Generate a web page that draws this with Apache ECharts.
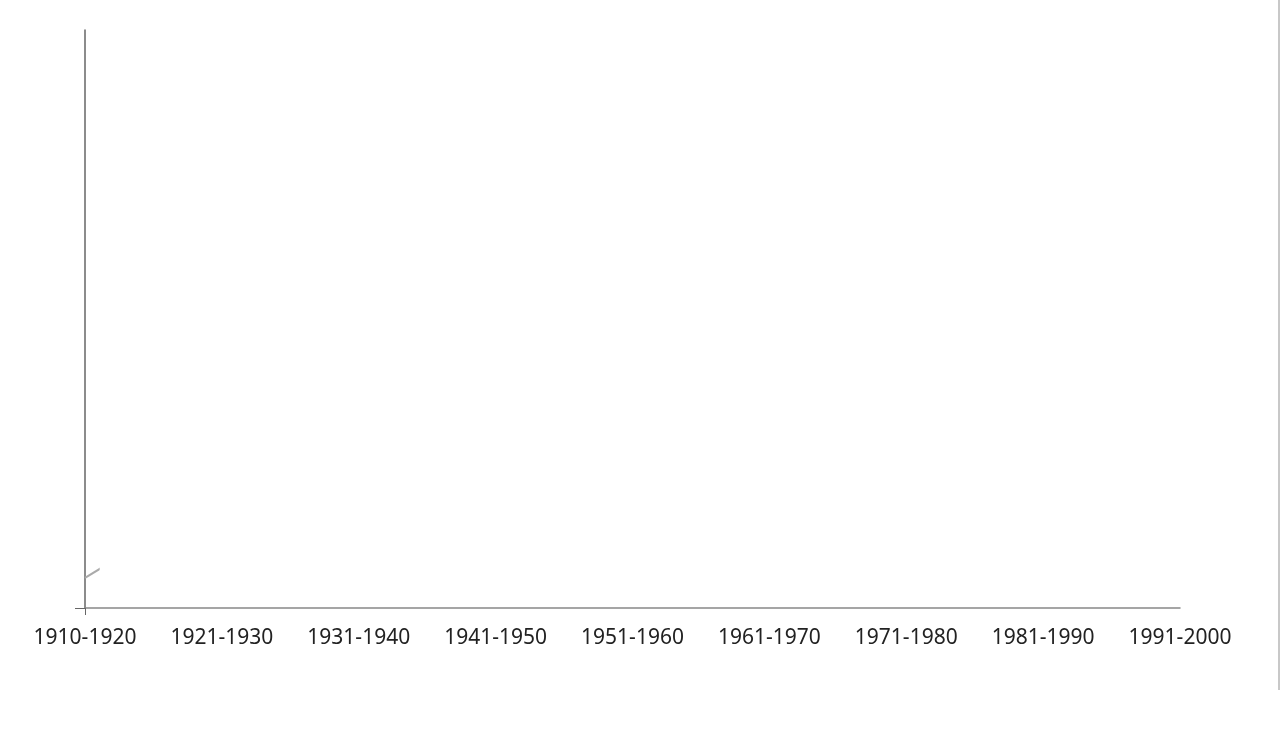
<!DOCTYPE html>
<html>
<head>
<meta charset="utf-8">
<script src="https://cdn.jsdelivr.net/npm/echarts@6/dist/echarts.min.js"></script>
<style>
html,body{margin:0;padding:0;background:#fff;}
#wrap{position:absolute;left:0;top:0;width:1278px;height:690px;border-right:2px solid #c8c8c8;}
#chart{position:absolute;left:0;top:0;width:1280px;height:730px;}
</style>
</head>
<body>
<div id="wrap"></div>
<div id="chart"></div>
<script>
var categories = ['1910-1920','1921-1930','1931-1940','1941-1950','1951-1960','1961-1970','1971-1980','1981-1990','1991-2000'];
var seriesValues = [5.2, 19.7, null, null, null, null, null, null, null];
var yMin = 0, yMax = 100;

var chart = echarts.init(document.getElementById('chart'), null, {renderer:'canvas'});
chart.setOption({
  animation: true,
  grid: {left: 85, right: 100, top: 30, bottom: 122, containLabel: false},
  xAxis: {
    type: 'category',
    data: categories,
    boundaryGap: false,
    axisLine: {show: true, lineStyle: {color: '#888', width: 1.5}},
    axisTick: {show: true, alignWithLabel: true, length: 7, interval: function(i){return i === 0;}, lineStyle: {color: '#666'}},
    axisLabel: {show: true, interval: 0, color: '#222', fontSize: 21, fontFamily: 'Noto Sans', margin: 20},
    splitLine: {show: false}
  },
  yAxis: {
    type: 'value',
    min: yMin, max: yMax,
    axisLine: {show: true, lineStyle: {color: '#666', width: 1.5}},
    axisTick: {show: true, length: 10, customValues: [0], lineStyle: {color: '#666'}},
    axisLabel: {show: false},
    splitLine: {show: false}
  },
  series: [{
    type: 'line',
    data: seriesValues,
    showSymbol: false,
    lineStyle: {color: '#aaa', width: 2},
    animationDuration: 150000,
    animationEasing: 'linear'
  }]
});
</script>
</body>
</html>
